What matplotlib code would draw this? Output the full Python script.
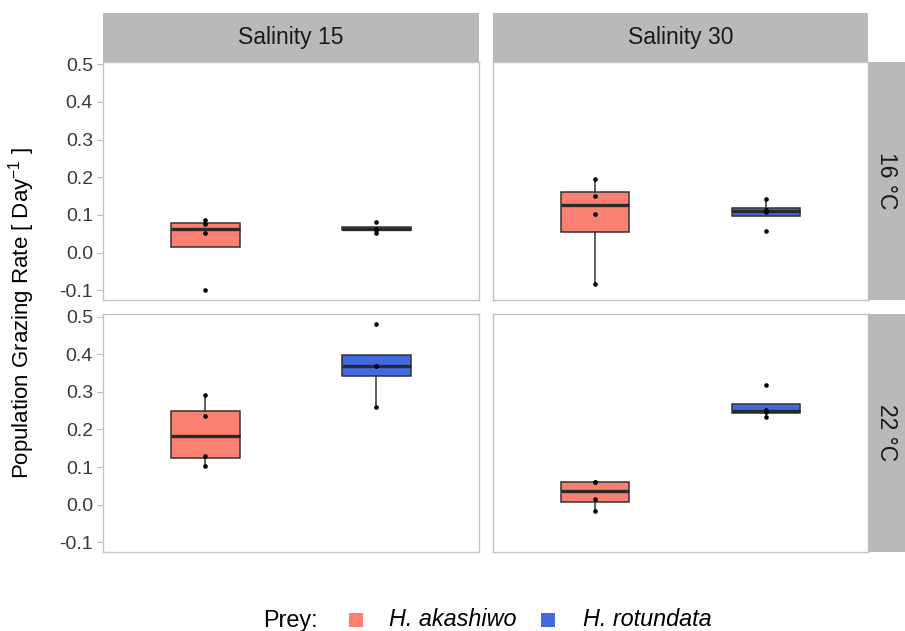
import matplotlib
matplotlib.use("Agg")
import matplotlib.pyplot as plt
from matplotlib.patches import Rectangle
from matplotlib.ticker import FuncFormatter

plt.rcParams['font.family'] = ['Liberation Sans', 'DejaVu Sans']
plt.rcParams['mathtext.default'] = 'regular'
plt.rcParams['axes.unicode_minus'] = False

# ---- data ----
salinities = ["Salinity 15", "Salinity 30"]
temperatures = ["16 °C", "22 °C"]
prey = ["H. akashiwo", "H. rotundata"]
prey_colors = ["#FA8072", "#4169E1"]

akashiwo_s15_16 = [-0.099, 0.051, 0.075, 0.087]
rotundata_s15_16 = [0.052, 0.061, 0.063, 0.082]
akashiwo_s30_16 = [-0.084, 0.102, 0.151, 0.195]
rotundata_s30_16 = [0.058, 0.109, 0.112, 0.142]
akashiwo_s15_22 = [0.103, 0.130, 0.235, 0.291]
rotundata_s15_22 = [0.260, 0.3695, 0.3695, 0.480]
akashiwo_s30_22 = [-0.016, 0.015, 0.059, 0.061]
rotundata_s30_22 = [0.233, 0.247, 0.251, 0.319]

panels = {
    (0, 0): [akashiwo_s15_16, rotundata_s15_16],
    (0, 1): [akashiwo_s30_16, rotundata_s30_16],
    (1, 0): [akashiwo_s15_22, rotundata_s15_22],
    (1, 1): [akashiwo_s30_22, rotundata_s30_22],
}
yticks = [-0.1, 0.0, 0.1, 0.2, 0.3, 0.4, 0.5]

# ---- layout (pixels) ----
W, H = 905, 631
fig = plt.figure(figsize=(W / 100, H / 100), dpi=100)
fig.patch.set_facecolor('white')

col_x = [(102.7, 479.0), (492.7, 868.0)]
row_y = [(61.7, 300.0), (314.0, 552.0)]
strip_top = (12.7, 61.7)
strip_right = (868.0, 905.0)

def fx(x):
    return x / W

def fy(y):
    return 1 - y / H

strip_color = '#B9B9B9'
border_color = '#C4C4C4'

for r in range(2):
    for c in range(2):
        x0, x1 = col_x[c]
        y0, y1 = row_y[r]
        ax = fig.add_axes([fx(x0), fy(y1), fx(x1) - fx(x0), fy(y0) - fy(y1)])
        data = panels[(r, c)]
        bp = ax.boxplot(data, positions=[1, 2], widths=0.4, patch_artist=True,
                        showfliers=False, showcaps=False, whis=1.5,
                        boxprops=dict(edgecolor='#333333', linewidth=1.1),
                        medianprops=dict(color='#2a2a2a', linewidth=2.4),
                        whiskerprops=dict(color='#333333', linewidth=1.1))
        for patch, col in zip(bp['boxes'], prey_colors):
            patch.set_facecolor(col)
        for i, vals in enumerate(data):
            ax.scatter([i + 1] * len(vals), vals, s=11, color='black', zorder=5,
                       linewidths=0)
        ax.set_xlim(0.4, 2.6)
        ax.set_ylim(-0.126, 0.507)
        ax.set_xticks([])
        for sp in ax.spines.values():
            sp.set_color(border_color)
            sp.set_linewidth(1.0)
        if c == 0:
            ax.set_yticks(yticks)
            ax.yaxis.set_major_formatter(FuncFormatter(lambda v, p: f"{v:.1f}"))
            ax.tick_params(axis='y', length=4, width=0.8, color='#BBBBBB',
                           labelsize=14, labelcolor='#3a3a3a', pad=3)
        else:
            ax.set_yticks([])

# top strips
for c in range(2):
    x0, x1 = col_x[c]
    fig.add_artist(Rectangle((fx(x0), fy(strip_top[1])), fx(x1) - fx(x0),
                             fy(strip_top[0]) - fy(strip_top[1]),
                             transform=fig.transFigure, facecolor=strip_color,
                             edgecolor='none'))
    fig.text(fx((x0 + x1) / 2), fy((strip_top[0] + strip_top[1]) / 2), salinities[c],
             ha='center', va='center', fontsize=16.5, color='#1a1a1a')

# right strips
for r in range(2):
    y0, y1 = row_y[r]
    fig.add_artist(Rectangle((fx(strip_right[0]), fy(y1)),
                             fx(strip_right[1]) - fx(strip_right[0]),
                             fy(y0) - fy(y1), transform=fig.transFigure,
                             facecolor=strip_color, edgecolor='none'))
    fig.text(fx((strip_right[0] + strip_right[1]) / 2), fy((y0 + y1) / 2),
             temperatures[r], ha='center', va='center', rotation=-90,
             fontsize=16.5, color='#1a1a1a')

# y label
fig.text(fx(22), fy(313), "Population Grazing Rate [ Day$^{-1}$ ]",
         rotation=90, ha='center', va='center', fontsize=16, color='black')

# legend
ly = 620
fig.text(fx(263), fy(ly), "Prey:", ha='left', va='center', fontsize=16.8)
key_x = [349, 541]
text_x = [389, 583]
for kx, tx, lab, col in zip(key_x, text_x, prey, prey_colors):
    fig.add_artist(Rectangle((fx(kx), fy(ly + 7)), fx(14), 14 / H,
                             transform=fig.transFigure, facecolor=col,
                             edgecolor='none'))
    fig.text(fx(tx), fy(ly), lab, ha='left', va='center', fontsize=16.8,
             style='italic')

fig.savefig("out.png", dpi=100)
